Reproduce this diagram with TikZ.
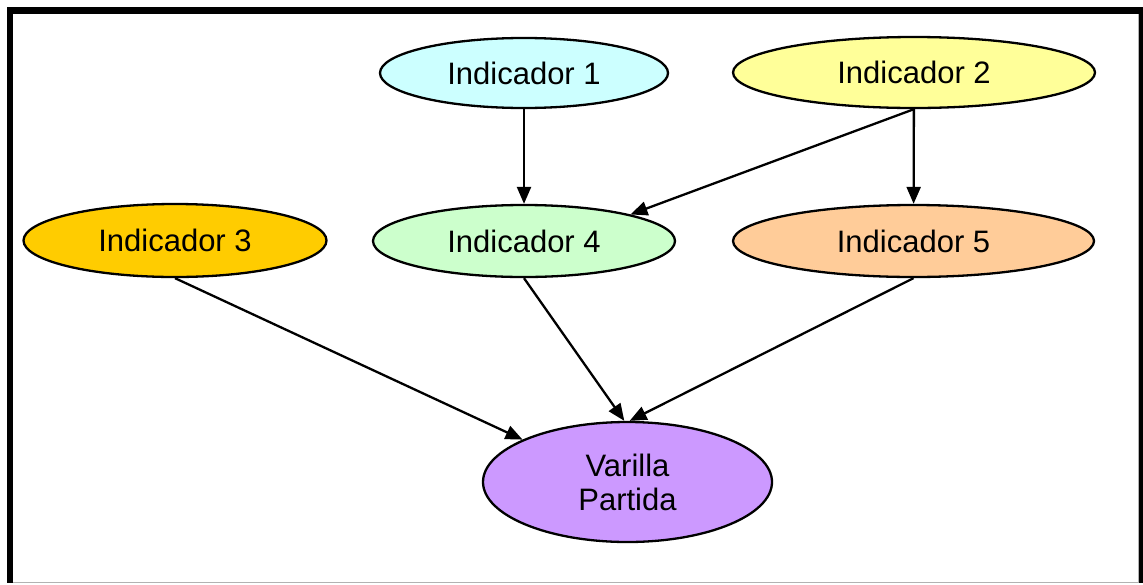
\documentclass[tikz,border=0pt]{standalone}
\usepackage{fontspec}
\setmainfont{Liberation Sans}
\usetikzlibrary{shapes.geometric,arrows.meta}
\definecolor{cyanfill}{HTML}{CCFFFF}
\definecolor{yellowfill}{HTML}{FFFF99}
\definecolor{goldfill}{HTML}{FFCC00}
\definecolor{greenfill}{HTML}{CCFFCC}
\definecolor{peachfill}{HTML}{FFCC99}
\definecolor{violetfill}{HTML}{CC99FF}
\begin{document}
\begin{tikzpicture}[x=1pt,y=-1pt,
  oval/.style={ellipse,draw=black,line width=2.3pt,inner sep=0pt,
    font=\fontsize{31}{34}\selectfont,align=center},
  link/.style={line width=2.3pt,-{Triangle[length=17pt,width=14pt]}}]
  \useasboundingbox (0,0) rectangle (1143,584);
  % frame
  \fill[black] (7,7) rectangle (1143,582.5);
  \fill[white] (13,14) rectangle (1138,582);
  \draw[gray!60,line width=1pt] (13,582.5) -- (1138,582.5) -- (1138,14);
  % nodes
  \node[oval,fill=cyanfill,minimum width=288pt,minimum height=70pt] (i1) at (524,73) {Indicador 1};
  \node[oval,fill=yellowfill,minimum width=362pt,minimum height=71pt] (i2) at (914,72.5) {Indicador 2};
  \node[oval,fill=goldfill,minimum width=303pt,minimum height=73pt] (i3) at (175,240.5) {Indicador 3};
  \node[oval,fill=greenfill,minimum width=302pt,minimum height=72pt] (i4) at (524,241) {Indicador 4};
  \node[oval,fill=peachfill,minimum width=361pt,minimum height=72pt] (i5) at (913.5,241) {Indicador 5};
  \node[oval,fill=violetfill,minimum width=289pt,minimum height=120pt] (v) at (627.5,482) {Varilla\\Partida};
  % connectors
  \draw[link] (i1) -- (i4);
  \draw[link] (i2.south) -- (i4.14);
  \draw[link] (i2) -- (i5);
  \draw[link] (i3.south) -- (v.158);
  \draw[link] (i4.south) -- (v.93);
  \draw[link] (i5.south) -- (v.88);
\end{tikzpicture}
\end{document}
